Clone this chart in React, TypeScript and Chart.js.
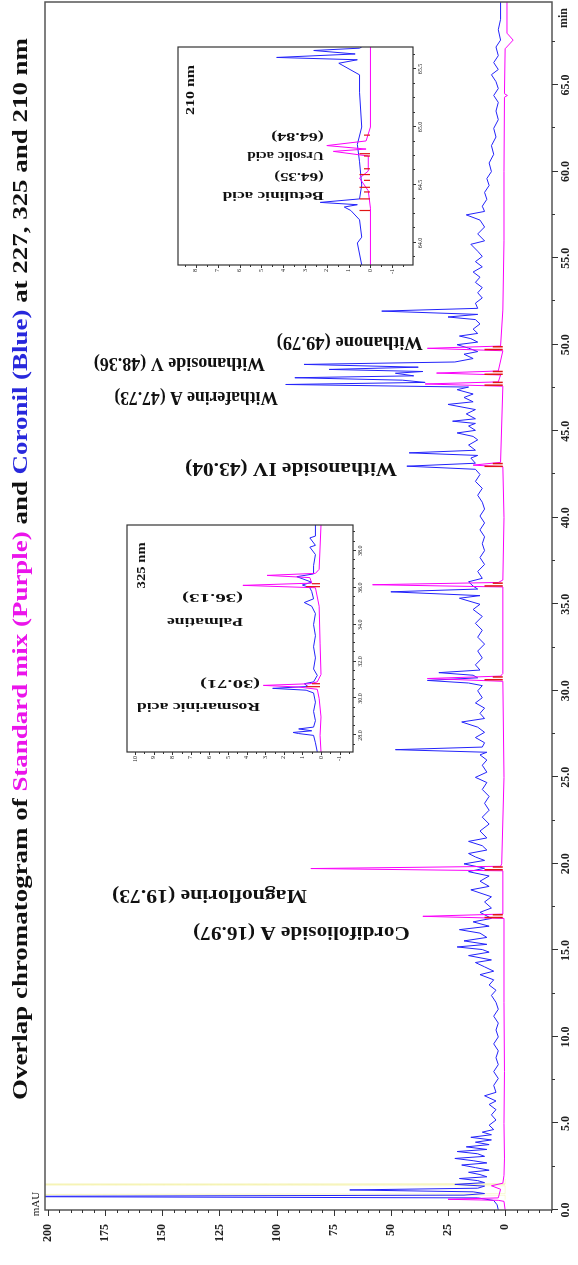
import React, { useEffect, useRef } from "react";
import { Chart, registerables } from "chart.js";

Chart.register(...registerables);

// ---------------- main chromatogram (227 nm) ----------------
const TIME_TICKS: number[] = [0, 5, 10, 15, 20, 25, 30, 35, 40, 45, 50, 55, 60, 65];
const MAU_TICKS: number[] = [0, 25, 50, 75, 100, 125, 150, 175, 200];

// Coronil (blue) trace: [time min, mAU]
const coronilTrace: [number, number][] = [
  [0, 3], [0.3, 3.5], [0.55, 5], [0.7, 12], [0.78, 240], [0.86, 18], [0.95, 9], [1.05, 14], [1.16, 68], [1.26, 12],
  [1.38, 9], [1.48, 22], [1.58, 9], [1.7, 12], [1.82, 20], [1.92, 8], [2.05, 11], [2.18, 16], [2.3, 7], [2.45, 13],
  [2.6, 19], [2.72, 8], [2.85, 14], [2.98, 22], [3.1, 9], [3.25, 12], [3.38, 21], [3.5, 8], [3.65, 17], [3.78, 7],
  [3.92, 13], [4.05, 6], [4.2, 15], [4.35, 6], [4.5, 10], [4.65, 5], [4.9, 7], [5.2, 4], [5.5, 6], [5.8, 4],
  [6.1, 7], [6.3, 4], [6.6, 9], [6.8, 4], [7.2, 5], [7.6, 3], [8.0, 5], [8.4, 3], [8.8, 4], [9.2, 3],
  [9.6, 5], [10.0, 3], [10.4, 4], [10.8, 3], [11.2, 5], [11.6, 3], [12.0, 4], [12.4, 6], [12.7, 4], [13.0, 7],
  [13.3, 5], [13.6, 11], [13.8, 5], [14.05, 9], [14.3, 13], [14.45, 6], [14.7, 16], [14.9, 7], [15.05, 10], [15.2, 21],
  [15.35, 8], [15.55, 18], [15.75, 8], [16.0, 11], [16.2, 20], [16.4, 7], [16.65, 14], [16.85, 6], [17.2, 11], [17.45, 6],
  [17.8, 9], [18.1, 6], [18.5, 15], [18.7, 7], [19.0, 11], [19.3, 7], [19.55, 16], [19.75, 9], [20.0, 18], [20.2, 9],
  [20.4, 13], [20.6, 16], [20.8, 8], [21.05, 10], [21.3, 16], [21.5, 8], [21.9, 11], [22.3, 7], [22.7, 10], [23.1, 7],
  [23.5, 9], [23.9, 7], [24.3, 10], [24.7, 8], [25.0, 13], [25.3, 8], [25.7, 10], [26.0, 8], [26.3, 11], [26.45, 8],
  [26.6, 48], [26.75, 10], [27.0, 9], [27.3, 13], [27.6, 9], [27.9, 12], [28.2, 19], [28.4, 9], [28.7, 11], [29.0, 9],
  [29.3, 13], [29.6, 10], [30.0, 12], [30.3, 10], [30.45, 16], [30.6, 34], [30.75, 12], [30.9, 14], [31.05, 29], [31.2, 11],
  [31.5, 13], [31.9, 10], [32.3, 12], [32.7, 9], [33.1, 12], [33.5, 10], [33.9, 13], [34.3, 10], [34.7, 14], [35.0, 11],
  [35.35, 20], [35.5, 11], [35.72, 50], [35.88, 12], [36.05, 14], [36.3, 16], [36.5, 10], [36.9, 12], [37.3, 9], [37.7, 11],
  [38.1, 9], [38.5, 10], [38.9, 9], [39.3, 11], [39.7, 9], [40.1, 11], [40.5, 9], [40.9, 10], [41.3, 12], [41.7, 10],
  [42.1, 13], [42.5, 11], [42.8, 13], [42.98, 43], [43.15, 13], [43.45, 15], [43.6, 12], [43.75, 42], [43.9, 13], [44.2, 16],
  [44.5, 12], [44.7, 14], [44.9, 21], [45.05, 13], [45.3, 16], [45.45, 13], [45.58, 23], [45.72, 13], [46.0, 17], [46.25, 13],
  [46.55, 25], [46.7, 14], [46.95, 18], [47.15, 14], [47.4, 21], [47.55, 16], [47.7, 96], [47.82, 35], [47.95, 45], [48.09, 92],
  [48.2, 40], [48.35, 48], [48.45, 36], [48.57, 77], [48.7, 38], [48.86, 88], [49.0, 22], [49.2, 14], [49.45, 18], [49.6, 12],
  [49.8, 16], [50.0, 21], [50.15, 12], [50.35, 15], [50.5, 20], [50.65, 12], [50.9, 14], [51.2, 11], [51.45, 13], [51.6, 25],
  [51.75, 12], [51.94, 54], [52.1, 12], [52.4, 13], [52.7, 10], [53.0, 12], [53.3, 10], [53.6, 13], [53.9, 11], [54.2, 14],
  [54.5, 10], [54.8, 13], [55.1, 10], [55.4, 12], [55.8, 15], [56.0, 9], [56.4, 12], [56.8, 9], [57.2, 11], [57.5, 17],
  [57.7, 9], [58.0, 10], [58.4, 8], [58.8, 9], [59.2, 7], [59.6, 8], [60.0, 6], [60.5, 7], [61.0, 5], [61.5, 6],
  [62.0, 4], [62.5, 5], [63.0, 3], [63.5, 4], [64.0, 3], [64.4, 5], [64.8, 3], [65.2, 4], [65.6, 6], [65.9, 3],
  [66.3, 5], [66.7, 3], [67.2, 4], [67.6, 2], [68.2, 3], [68.8, 2], [69.8, 2],
];

// Standard mix (magenta) trace
const standardTrace: [number, number][] = [
  [0, 0], [0.5, 0.5], [0.56, 3], [0.62, 25], [0.7, 3], [1.2, 2], [1.4, 6], [1.55, 1], [2, 0.5], [3, 0.3],
  [5, 0.5], [8, 0.3], [12, 0.5], [16.85, 0.5], [16.97, 36], [17.1, 1], [19.6, 1], [19.73, 85], [19.86, 2], [20.0, 1.5],
  [25, 0.5], [30.55, 1], [30.71, 34], [30.85, 2], [31, 1], [36.0, 1], [36.13, 58], [36.26, 3], [36.4, 1], [40, 0.5],
  [42.95, 1], [43.04, 14], [43.2, 2], [47.6, 1], [47.73, 35], [47.85, 3], [48.25, 2], [48.36, 30], [48.48, 3], [49.65, 1],
  [49.79, 34], [49.92, 2], [52, 1], [56, 0.5], [60, 0.5], [64.3, 0.3], [64.4, -1], [64.5, 0.3], [67.1, 0], [67.6, -3.5],
  [68.0, -0.8], [69.8, -0.8],
];

// faint solvent-front trace (yellow)
const solventTrace: [number, number][] = [
  [0.6, 0], [0.85, 0], [0.9, 230], [0.95, 0], [1.4, 0], [1.45, 230], [1.5, 0], [1.8, 0],
];

// retention times of integrated standard peaks (red markers)
const integratedTimes: number[] = [16.97, 19.73, 30.71, 36.13, 43.04, 47.73, 48.36, 49.79];

const peakLabels: string[] = [
  "Cordifolioside A (16.97)",
  "Magnoflorine (19.73)",
  "Withanoside IV (43.04)",
  "Withaferine A (47.73)",
  "Withanoside V (48.36)",
  "Withanone (49.79)",
];

// ---------------- inset 325 nm ----------------
const inset325Coronil: [number, number][] = [
  [27.1, 0.2], [27.6, 0.3], [28.0, 0.4], [28.1, 1.2], [28.16, 1.5], [28.25, 0.5], [28.35, 1.2], [28.45, 0.4], [28.8, 0.3], [29.3, 0.4],
  [29.8, 0.3], [30.3, 0.4], [30.45, 0.8], [30.55, 2.6], [30.65, 0.7], [30.8, 0.9], [30.9, 0.4], [31.25, 0.2], [31.6, 0.4], [32.2, 0.3],
  [32.8, 0.4], [33.4, 0.3], [34.0, 0.4], [34.6, 0.3], [35.0, 0.5], [35.2, 0.9], [35.4, 0.4], [35.8, 0.5], [36.0, 0.6], [36.15, 1.0],
  [36.3, 0.5], [36.6, 1.3], [36.75, 0.4], [37.2, 0.4], [37.8, 0.3], [38.2, 0.6], [38.3, 0.3], [38.7, 0.6], [38.8, 0.3], [39.4, 0.3],
];
const inset325Standard: [number, number][] = [
  [27.1, 0], [28, 0.05], [29, 0], [30, 0.1], [30.5, 0.2], [30.62, 1.2], [30.71, 3.1], [30.8, 0.6], [30.9, 0.2], [31.3, 0],
  [33, 0.05], [35, 0.1], [36.0, 0.3], [36.13, 4.2], [36.25, 0.5], [36.55, 0.6], [36.67, 2.9], [36.78, 0.3], [37, 0.1], [39.4, 0],
];
const inset325Times: number[] = [30.71, 36.13];
const inset325Labels: string[] = ["Rosmarinic acid", "(30.71)", "Palmatine", "(36.13)"];
const INSET325_TICKS_X: number[] = [28, 30, 32, 34, 36, 38];
const INSET325_TICKS_Y: number[] = [-1, 0, 1, 2, 3, 4, 5, 6, 7, 8, 9, 10];

// ---------------- inset 210 nm ----------------
const inset210Coronil: [number, number][] = [
  [63.81, 0.4], [64.0, 0.6], [64.05, 0.4], [64.2, 0.5], [64.28, 0.9], [64.31, 1.2], [64.33, 0.6], [64.35, 2.3], [64.38, 0.5], [64.5, 0.4],
  [64.7, 0.5], [64.85, 0.6], [65.0, 0.4], [65.3, 0.5], [65.45, 0.5], [65.55, 1.45], [65.58, 0.6], [65.6, 4.3], [65.63, 0.7], [65.66, 2.6],
  [65.68, 0.5], [65.69, 0.4],
];
const inset210Standard: [number, number][] = [
  [63.81, 0], [64.3, 0], [64.45, 0.1], [64.56, 0.5], [64.62, 0.1], [64.75, 0.1], [64.79, 1.7], [64.81, 0.2], [64.84, 2.0], [64.88, 0.2],
  [65.0, 0], [65.69, 0],
];
const inset210Times: number[] = [64.35, 64.45, 64.55, 64.66, 64.84];
const inset210Labels: string[] = ["Betulinic acid", "(64.35)", "Ursolic acid", "(64.84)"];
const INSET210_TICKS_X: number[] = [64.0, 64.5, 65.0, 65.5];
const INSET210_TICKS_Y: number[] = [-1, 0, 1, 2, 3, 4, 5, 6, 7, 8];

// ---------------- layout (positions / styles only) ----------------
const SERIF = "'Liberation Serif', 'Times New Roman', serif";
const BLUE = "rgb(35,35,250)";
const MAGENTA = "rgb(250,0,250)";
const RED = "rgb(225,20,20)";
// label anchors: [time at text centre line, mAU at text start, mAU at text end]
const PEAK_LABEL_POS: [number, number, number][] = [
  [16.1, 41.7, 136.5],
  [18.23, 86.7, 172],
  [42.91, 47.3, 140],
  [47.01, 99.4, 171],
  [48.97, 105.1, 180],
  [50.18, 36.0, 100],
];
const INSET325_LABEL_POS: [number, number, number][] = [
  [29.57, 3.28, 9.89],
  [30.82, 3.28, 6.5],
  [34.18, 4.19, 8.28],
  [35.48, 4.19, 7.47],
];
const INSET210_LABEL_POS: [number, number, number][] = [
  [64.41, 2.14, 6.77],
  [64.58, 2.14, 4.41],
  [64.755, 2.14, 5.64],
  [64.92, 2.14, 4.55],
];

const TITLE_PARTS: [string, string][] = [
  ["Overlap chromatogram of ", "#111"],
  ["Standard mix (Purple)", "rgb(235,20,235)"],
  [" and ", "#111"],
  ["Coronil (Blue)", "rgb(40,40,220)"],
  [" at 227, 325 and 210 nm", "#111"],
];

function fittedText(ctx: CanvasRenderingContext2D, text: string, x: number, y: number, length: number, font: string, color: string, vertical: boolean) {
  ctx.save();
  ctx.font = font;
  const w = ctx.measureText(text).width;
  ctx.translate(x, y);
  if (vertical) ctx.rotate(-Math.PI / 2);
  ctx.scale(length / w, 1);
  ctx.fillStyle = color;
  ctx.textBaseline = "middle";
  ctx.textAlign = "left";
  ctx.fillText(text, 0, 0);
  ctx.restore();
}

function markerSegments(times: number[], lo: number, hi: number): [number, number | null][] {
  const out: [number, number | null][] = [];
  times.forEach((t) => {
    out.push([t - 0.07, lo], [t - 0.07, hi], [t - 0.07, null]);
    out.push([t + 0.09, lo], [t + 0.09, hi * 0.6], [t + 0.09, null]);
  });
  return out;
}

function drawFrameAndTicks(chart: any, xStep: number, xMajor: number, yStep: number, yMajor: number, yFrom: number, lens: [number, number], frameColor: string, frameWidth: number) {
  const { ctx, chartArea: a, scales } = chart;
  const xs = scales.x, ys = scales.y;
  ctx.save();
  ctx.strokeStyle = frameColor;
  ctx.lineWidth = frameWidth;
  ctx.strokeRect(a.left, a.top, a.right - a.left, a.bottom - a.top);
  ctx.lineWidth = 1;
  ctx.strokeStyle = "#333";
  const x0 = Math.ceil(xs.min / xStep) * xStep;
  for (let t = x0; t <= xs.max + 1e-9; t += xStep) {
    const px = Math.round(xs.getPixelForValue(t)) + 0.5;
    const major = Math.abs(t / xMajor - Math.round(t / xMajor)) < 1e-6;
    ctx.beginPath();
    ctx.moveTo(px, a.bottom);
    ctx.lineTo(px, a.bottom + (major ? lens[0] : lens[1]));
    ctx.stroke();
  }
  for (let m = yFrom; m <= ys.max + 1e-9; m += yStep) {
    const py = Math.round(ys.getPixelForValue(m)) + 0.5;
    const major = Math.abs(m / yMajor - Math.round(m / yMajor)) < 1e-6;
    ctx.beginPath();
    ctx.moveTo(a.left, py);
    ctx.lineTo(a.left - (major ? lens[0] : lens[1]), py);
    ctx.stroke();
  }
  ctx.restore();
}

const mainDecor = {
  id: "mainDecor",
  afterDraw(chart: any) {
    const { ctx, chartArea: a, scales } = chart;
    const xs = scales.x, ys = scales.y;
    drawFrameAndTicks(chart, 2.5, 5, 5, 25, -20, [6, 3], "#555", 1.5);
    ctx.save();
    ctx.fillStyle = "#222";
    ctx.font = `11px ${SERIF}`;
    ctx.textBaseline = "middle";
    ctx.textAlign = "center";
    ctx.fillText("mAU", a.left + 6, 36);
    ctx.font = `bold 12px ${SERIF}`;
    ctx.fillText("min", 1247, a.bottom + 12);
    ctx.restore();
    // title
    ctx.save();
    ctx.font = `bold 22px ${SERIF}`;
    const full = TITLE_PARTS.map((p) => p[0]).join("");
    const total = ctx.measureText(full).width;
    const k = (1227 - 165) / total;
    ctx.translate(165, 21);
    ctx.scale(k, 1);
    ctx.textBaseline = "middle";
    let cx = 0;
    TITLE_PARTS.forEach(([s, c]) => {
      ctx.fillStyle = c;
      ctx.fillText(s, cx, 0);
      cx += ctx.measureText(s).width;
    });
    ctx.restore();
    // peak labels
    peakLabels.forEach((txt, i) => {
      const [t, m0, m1] = PEAK_LABEL_POS[i];
      const px = xs.getPixelForValue(t);
      const p0 = ys.getPixelForValue(m0);
      const p1 = ys.getPixelForValue(m1);
      fittedText(ctx, txt, px, p0, p0 - p1, `bold 18px ${SERIF}`, "#111", true);
    });
  },
};

function insetDecor(id: string, labels: string[], pos: [number, number, number][], nm: string, nmPos: [number, number, number], xStep: number, xMajor: number) {
  return {
    id,
    afterDraw(chart: any) {
      const { ctx, scales } = chart;
      const xs = scales.x, ys = scales.y;
      drawFrameAndTicks(chart, xStep, xMajor, 0.5, 1, -1.5, [3, 2], "#333", 1.2);
      labels.forEach((txt, i) => {
        const [t, m0, m1] = pos[i];
        const px = xs.getPixelForValue(t);
        const p0 = ys.getPixelForValue(m0);
        const p1 = ys.getPixelForValue(m1);
        fittedText(ctx, txt, px, p0, p0 - p1, `bold 12px ${SERIF}`, "#111", true);
      });
      const [t, m, len] = nmPos;
      fittedText(ctx, nm, xs.getPixelForValue(t) - len / 2, ys.getPixelForValue(m), len, `bold 12px ${SERIF}`, "#111", false);
    },
  };
}

function lineDs(data: any[], color: string, width: number, order: number) {
  return {
    data,
    borderColor: color,
    backgroundColor: color,
    borderWidth: width,
    pointRadius: 0,
    tension: 0,
    fill: false,
    spanGaps: false,
    order,
  };
}

function axisCfg(min: number, max: number, ticks: number[], fmt: (v: number) => string, size: number, pad: number, fit: (s: any) => void, bold: boolean) {
  return {
    type: "linear" as const,
    min,
    max,
    grid: { display: false, drawTicks: false },
    border: { display: false },
    afterBuildTicks: (axis: any) => {
      axis.ticks = ticks.map((v) => ({ value: v }));
    },
    afterFit: fit,
    ticks: {
      autoSkip: false,
      maxRotation: 0,
      minRotation: 0,
      padding: pad,
      color: "#222",
      font: { family: SERIF, size, weight: bold ? "bold" : "normal" },
      callback: (v: any) => fmt(Number(v)),
    },
  };
}

export default function App() {
  const mainRef = useRef<HTMLCanvasElement | null>(null);
  const in1Ref = useRef<HTMLCanvasElement | null>(null);
  const in2Ref = useRef<HTMLCanvasElement | null>(null);

  useEffect(() => {
    document.body.style.margin = "0";
    document.body.style.overflow = "hidden";
    const charts: Chart[] = [];
    if (mainRef.current) {
      charts.push(
        new Chart(mainRef.current, {
          type: "line",
          data: {
            datasets: [
              lineDs(markerSegments(integratedTimes, 1, 9), RED, 1.5, 1),
              lineDs(standardTrace, MAGENTA, 1, 2),
              lineDs(coronilTrace, BLUE, 1, 3),
              lineDs(solventTrace, "rgba(240,235,120,0.3)", 1, 4),
            ] as any,
          },
          options: {
            animation: false,
            responsive: false,
            maintainAspectRatio: false,
            layout: { padding: { top: 45, right: 2, left: 0, bottom: 0 } },
            plugins: { legend: { display: false }, tooltip: { enabled: false }, title: { display: false } },
            scales: {
              x: axisCfg(0, 69.8, TIME_TICKS, (v) => v.toFixed(1), 12, 7, (s: any) => { s.height = 26; }, true),
              y: axisCfg(-20.5, 201.3, MAU_TICKS, (v) => String(v), 12, 14, (s: any) => { s.width = 55; }, true),
            },
          } as any,
          plugins: [mainDecor],
        })
      );
    }
    if (in1Ref.current) {
      charts.push(
        new Chart(in1Ref.current, {
          type: "line",
          data: {
            datasets: [
              lineDs(markerSegments(inset325Times, 0.05, 0.8), RED, 1.2, 1),
              lineDs(inset325Standard, MAGENTA, 1, 2),
              lineDs(inset325Coronil, BLUE, 1, 3),
            ] as any,
          },
          options: {
            animation: false,
            responsive: false,
            maintainAspectRatio: false,
            layout: { padding: { top: 12, right: 10, left: 0, bottom: 0 } },
            plugins: { legend: { display: false }, tooltip: { enabled: false } },
            scales: {
              x: axisCfg(27.1, 39.4, INSET325_TICKS_X, (v) => v.toFixed(1), 6, 4, (s: any) => { s.height = 27; }, false),
              y: axisCfg(-1.72, 10.43, INSET325_TICKS_Y, (v) => String(v), 6, 4, (s: any) => { s.width = 33; }, false),
            },
          } as any,
          plugins: [insetDecor("in1", inset325Labels, INSET325_LABEL_POS, "325 nm", [37.21, 9.62, 46], 0.5, 2)],
        })
      );
    }
    if (in2Ref.current) {
      charts.push(
        new Chart(in2Ref.current, {
          type: "line",
          data: {
            datasets: [
              lineDs(markerSegments(inset210Times, 0.02, 0.5), RED, 1.2, 1),
              lineDs(inset210Standard, MAGENTA, 1, 2),
              lineDs(inset210Coronil, BLUE, 1, 3),
            ] as any,
          },
          options: {
            animation: false,
            responsive: false,
            maintainAspectRatio: false,
            layout: { padding: { top: 10, right: 10, left: 0, bottom: 0 } },
            plugins: { legend: { display: false }, tooltip: { enabled: false } },
            scales: {
              x: axisCfg(63.81, 65.69, INSET210_TICKS_X, (v) => v.toFixed(1), 6, 4, (s: any) => { s.height = 27; }, false),
              y: axisCfg(-1.95, 8.82, INSET210_TICKS_Y, (v) => String(v), 6, 4, (s: any) => { s.width = 30; }, false),
            },
          } as any,
          plugins: [insetDecor("in2", inset210Labels, INSET210_LABEL_POS, "210 nm", [65.32, 8.23, 50], 0.125, 0.5)],
        })
      );
    }
    return () => {
      charts.forEach((c) => c.destroy());
    };
  }, []);

  return (
    <div
      style={{
        position: "absolute",
        left: 0,
        top: 0,
        width: 1265,
        height: 578,
        background: "#fff",
        transformOrigin: "0 0",
        transform: "translateY(1265px) rotate(-90deg)",
      }}
    >
      <canvas ref={mainRef} width={1265} height={578} style={{ position: "absolute", left: 0, top: 0, width: 1265, height: 578 }} />
      <canvas ref={in1Ref} width={270} height={265} style={{ position: "absolute", left: 480, top: 115, width: 270, height: 265 }} />
      <canvas ref={in2Ref} width={258} height={272} style={{ position: "absolute", left: 970, top: 168, width: 258, height: 272 }} />
    </div>
  );
}
